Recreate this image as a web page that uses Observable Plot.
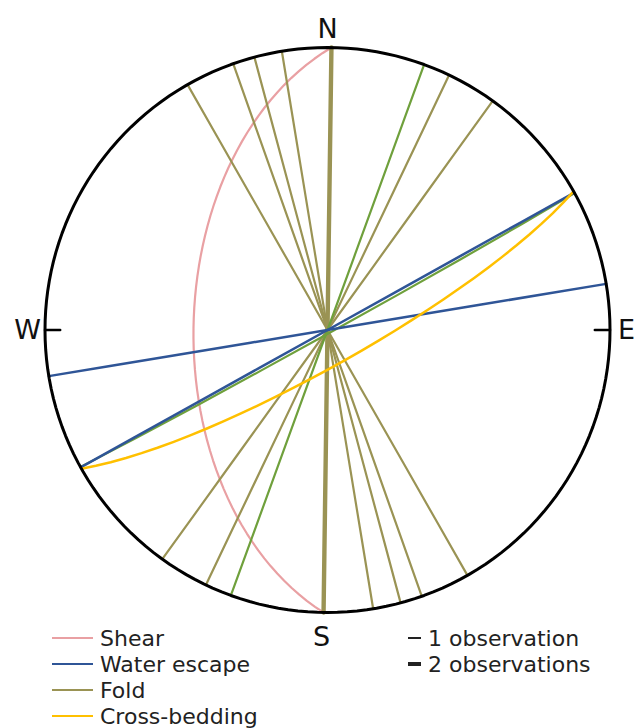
<!DOCTYPE html>
<html><head><meta charset="utf-8">
<script src="https://cdn.jsdelivr.net/npm/d3@7"></script>
<script src="https://cdn.jsdelivr.net/npm/@observablehq/plot@0.6"></script>
<style>
body{margin:0;background:#fff;font-family:"DejaVu Sans",sans-serif;}
#wrap{position:relative;width:638px;height:728px;overflow:hidden;background:#fff;}
#wrap svg{position:absolute;left:0;top:0;}
.row{position:absolute;height:26px;display:flex;align-items:center;font-size:22px;color:#222;white-space:nowrap;}
.sw{display:inline-block;}
</style></head><body><div id="wrap"></div>
<script>
// Plane measurements (lower-hemisphere, equal-area net)
const planeType    = ["Shear","Fold","Fold","Fold","Fold","Fold","Fold","Fold","Other","Other","Water escape","Water escape","Cross-bedding"];
const dipDirection = [270.8, 60.3, 70.5, 75, 80.7, 90.8, 115.5, 125.8, 110, 151, 150.9, 170.6, 150.6];
const dipAngle     = [50.8, 90, 90, 90, 90, 90, 90, 90, 90, 89, 90, 90, 80];
const observations = [1, 1, 1, 1, 1, 2, 1, 1, 1, 1, 1, 1, 1];

const legendTypes  = ["Shear","Water escape","Fold","Cross-bedding"];
const typeColors   = {"Shear":"#e9a0a3","Water escape":"#2f5597","Fold":"#9a9354","Other":"#6fa03c","Cross-bedding":"#ffc000"};
const compass      = ["N","E","S","W"];
const compassAz    = [0, 90, 180, 270];
const obsLabels    = ["1 observation","2 observations"];
const obsCounts    = [1, 2];

const planes = planeType.map((t,i)=>({type:t, dipDir:dipDirection[i], dip:dipAngle[i], n:observations[i]}));
const pt = (az, plunge) => [180 - az, plunge];
const greatCircle = d => ({type:"LineString", coordinates:[pt(d.dipDir-90,0), pt(d.dipDir,d.dip), pt(d.dipDir+90,0)]});
const widthOf = n => n === 2 ? 4 : 2;

const typeMark = (t, w) => Plot.geo(planes.filter(d=>d.type===t), {
  geometry: greatCircle, stroke: typeColors[t], strokeWidth: d => widthOf(d.n) * w, fill: "none"
});

const labelOffsets = {N:[0,-21],E:[19,0],S:[-6,27],W:[-20,0]};
const labelMarks = compass.map((c,i)=>Plot.text([c], {
  x: () => pt(compassAz[i],1)[0], y: () => pt(compassAz[i],1)[1], text: d=>d,
  dx: labelOffsets[c][0], dy: labelOffsets[c][1], fontSize: 27, fill: "#111", textAnchor: "middle"
}));

const chart = Plot.plot({
  width: 638, height: 728, margin: 0,
  style: {fontFamily: "DejaVu Sans", background: "transparent", overflow: "visible"},
  projection: () => d3.geoAzimuthalEqualArea().rotate([0,-90]).clipAngle(90)
      .scale(282.5/Math.SQRT2).translate([327,329.5]).precision(0.1),
  marks: [
    typeMark("Shear", 1.1),
    typeMark("Fold", 1.1),
    typeMark("Other", 1.1),
    typeMark("Water escape", 1.25),
    typeMark("Cross-bedding", 1.25),
    Plot.geo(compassAz.filter(a=>a===90||a===270), {
      geometry: az => ({type:"LineString", coordinates:[pt(az,0), pt(az,6)]}),
      stroke: "#000", strokeWidth: 2.5
    }),
    Plot.sphere({stroke: "#000", strokeWidth: 3}),
    ...labelMarks
  ]
});
const wrap = document.getElementById("wrap");
wrap.appendChild(chart);

legendTypes.forEach((t,i)=>{
  const r = document.createElement("div");
  r.className = "row";
  r.style.left = "52px"; r.style.top = (625 + i*26) + "px";
  r.innerHTML = `<span class="sw" style="width:41px;height:2.5px;background:${typeColors[t]};margin-right:7px"></span><span>${t}</span>`;
  wrap.appendChild(r);
});
obsLabels.forEach((t,i)=>{
  const r = document.createElement("div");
  r.className = "row";
  r.style.left = "408px"; r.style.top = (625 + i*26) + "px";
  r.innerHTML = `<span class="sw" style="width:13px;height:${widthOf(obsCounts[i])}px;background:#222;margin-right:7px"></span><span>${t}</span>`;
  wrap.appendChild(r);
});
</script></body></html>
